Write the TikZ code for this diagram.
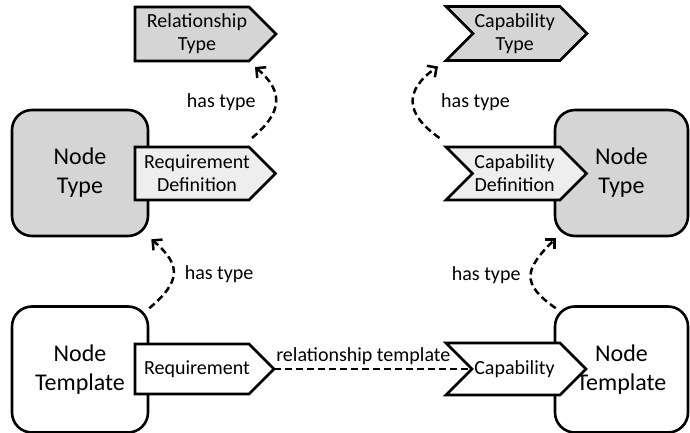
\documentclass[tikz,border=0pt]{standalone}
\usepackage{fontspec}
\setmainfont{Carlito}
\usetikzlibrary{arrows.meta}

% arrow-like box: name, left x, middle y, half height, notch depth, fill, text
\newcommand{\sigshape}[7]{%
  \filldraw[sigline, fill=#6] (#2,#3+#4) -- (#2+114,#3+#4) -- (#2+114+#4,#3)
      -- (#2+114,#3-#4) -- (#2,#3-#4) -- (#2+#5,#3) -- cycle;
  \coordinate (#1-nw) at (#2+#5,#3+#4);
  \coordinate (#1-ne) at (#2+114,#3+#4);
  \coordinate (#1-sw) at (#2+#5,#3-#4);
  \coordinate (#1-se) at (#2+114,#3-#4);
  \coordinate (#1-tip) at (#2+114+#4,#3);
  \coordinate (#1-notch) at (#2+#5,#3);
  \node[sigtext] (#1) at (#2+62+#5/4,#3) {#7};
}

\begin{document}
\begin{tikzpicture}[x=1pt,y=1pt,
    nodebox/.style={draw, line width=2.6pt, rounded corners=20pt, minimum width=136pt, minimum height=126pt, align=center, font=\fontsize{24}{29}\selectfont},
    typebox/.style={nodebox, fill=gray!33},
    sigline/.style={line width=2.6pt, line join=miter},
    sigtext/.style={align=center, inner sep=0pt, font=\fontsize{20}{23}\selectfont},
    dashline/.style={line width=2.5pt, dash pattern=on 7pt off 4pt},
    hastype/.style={dashline, -{Straight Barb[length=7pt,width=14pt]}},
    lbl/.style={font=\fontsize{20}{23}\selectfont, inner sep=1pt}
]
    \useasboundingbox (0,0) rectangle (690,433);

    % Node types
    \node[typebox] (ntypeL) at (80,260) {Node\\Type};
    \node[typebox, minimum width=133pt] (ntypeR) at (621.5,260) {Node\\Type};

    % Node templates
    \node[nodebox] (ntmplL) at (80,63.5) {Node\\Template};
    \node[nodebox, minimum width=133pt] (ntmplR) at (621.5,63.5) {Node\\Template};

    % Requirement side
    \sigshape{reltype}{135}{399}{27}{0}{gray!33}{Relationship\\Type}
    \sigshape{reqdef}{135}{259.5}{26.5}{0}{gray!13}{Requirement\\Definition}
    \sigshape{req}{135}{64}{25}{0}{white}{Requirement}

    % Capability side
    \sigshape{captype}{446}{399.5}{27}{27}{gray!33}{Capability\\Type}
    \sigshape{capdef}{446}{259.5}{26.5}{26.5}{gray!13}{Capability\\Definition}
    \sigshape{cap}{446}{64}{26}{26}{white}{Capability}

    % has type
    \draw[hastype] ([shift={(3,9)}]reqdef-ne) to[out=40,in=-40,looseness=1.4]
        node[lbl, pos=.5, left=18pt] {has type} ([shift={(6,-6)}]reltype-se);
    \draw[hastype] ([shift={(-33,9)}]capdef-nw) to[out=145,in=-145,looseness=1.5]
        node[lbl, pos=.5, right=26pt] {has type} ([shift={(-35,-6)}]captype-sw);
    \draw[hastype] ([shift={(0,-3)}]ntmplL.north east) to[out=40,in=-40,looseness=1.5]
        node[lbl, pos=.5, right=9pt] {has type} ([shift={(2,-2)}]ntypeL.south east);
    \draw[hastype] ([shift={(2,-3)}]ntmplR.north west) to[out=145,in=-135,looseness=1.6]
        node[lbl, pos=.5, left=8pt] {has type} ([shift={(2,-1)}]ntypeR.south west);

    % relationship template
    \draw[dashline] (req-tip) -- node[lbl, pos=0, anchor=south west, yshift=2pt] {relationship template} (cap-notch);
\end{tikzpicture}
\end{document}
